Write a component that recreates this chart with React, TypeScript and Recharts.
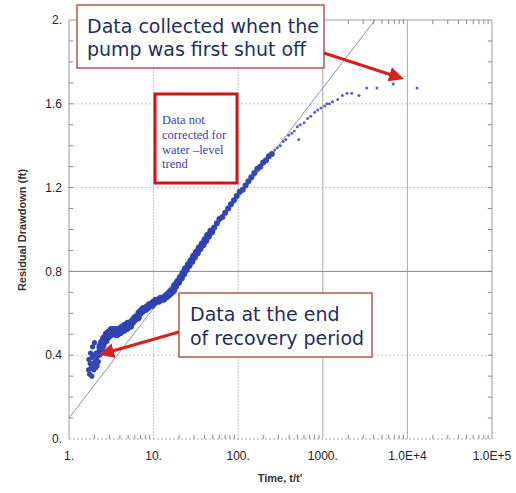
import React from 'react';
import { ScatterChart, Scatter, XAxis, YAxis, ReferenceLine } from 'recharts';

// ---- axes ----
const xTicks = [1, 10, 100, 1000, 10000, 100000];
const xTickLabels = ['1.', '10.', '100.', '1000.', '1.0E+4', '1.0E+5'];
const xMinorTicks = [
  2, 3, 4, 5, 6, 7, 8, 9,
  20, 30, 40, 50, 60, 70, 80, 90,
  200, 300, 400, 500, 600, 700, 800, 900,
  2000, 3000, 4000, 5000, 6000, 7000, 8000, 9000,
  20000, 30000, 40000, 50000, 60000, 70000, 80000, 90000,
];
const yTicks = [0, 0.4, 0.8, 1.2, 1.6, 2];
const yTickLabels = ['0.', '0.4', '0.8', '1.2', '1.6', '2.'];
const yMinorTicks = [0.1, 0.2, 0.3, 0.4, 0.5, 0.6, 0.7, 0.8, 0.9, 1.0, 1.1, 1.2, 1.3, 1.4, 1.5, 1.6, 1.7, 1.8, 1.9];

// ---- data: [t/t', residual drawdown ft] ----
const endOfRecovery: [number, number][] = [
  [1.70, 0.33], [1.72, 0.38], [1.75, 0.31], [1.78, 0.36], [1.80, 0.41], [1.83, 0.34],
  [1.86, 0.30], [1.88, 0.39], [1.90, 0.44], [1.93, 0.36], [1.96, 0.33], [1.98, 0.40],
  [2.00, 0.46], [2.03, 0.37], [2.06, 0.34], [2.09, 0.41], [2.12, 0.38], [2.15, 0.35],
  [2.18, 0.40], [2.22, 0.37], [2.26, 0.42], [2.30, 0.40],
];
const earlyBand: [number, number][] = [
  [2.35, 0.44], [2.4, 0.43], [2.45, 0.46], [2.5, 0.45], [2.6, 0.48], [2.7, 0.47],
  [2.8, 0.50], [2.9, 0.49], [3.0, 0.51], [3.1, 0.50], [3.2, 0.52], [3.35, 0.51],
  [3.5, 0.52], [3.65, 0.50], [3.8, 0.52], [4.0, 0.51], [4.2, 0.53], [4.4, 0.52],
  [4.6, 0.54], [4.8, 0.53], [5.0, 0.55], [5.3, 0.54], [5.6, 0.56], [5.9, 0.57],
  [6.2, 0.58], [6.5, 0.58], [6.8, 0.60], [7.2, 0.61], [7.6, 0.62], [8.0, 0.62],
  [8.5, 0.63], [9.0, 0.64], [9.5, 0.64], [10, 0.65], [10.7, 0.66], [11.4, 0.66],
  [12.2, 0.67], [13, 0.67], [14, 0.68], [15, 0.69], [16, 0.70], [17, 0.71],
  [18, 0.73], [19.5, 0.75], [21, 0.77], [22.5, 0.79], [24, 0.81], [26, 0.83],
  [28, 0.85], [30, 0.87], [32.5, 0.89], [35, 0.91], [38, 0.93], [41, 0.95],
  [44, 0.97], [48, 0.99],
];
const midBand: [number, number][] = [
  [52, 1.01], [56, 1.03], [60, 1.05], [65, 1.06], [70, 1.08], [76, 1.10],
  [82, 1.12], [89, 1.14], [96, 1.16], [104, 1.18], [113, 1.19], [122, 1.21],
  [132, 1.23], [143, 1.25], [155, 1.27], [168, 1.29], [182, 1.30], [197, 1.32],
  [213, 1.33], [230, 1.35], [250, 1.36],
];
const lateData: [number, number][] = [
  [270, 1.38], [290, 1.39], [315, 1.40], [340, 1.42], [365, 1.43], [395, 1.45],
  [430, 1.46], [460, 1.47], [500, 1.49], [520, 1.43], [540, 1.50], [600, 1.51],
  [660, 1.53], [720, 1.54], [800, 1.56], [870, 1.57], [950, 1.58], [1050, 1.59],
  [1120, 1.60], [1200, 1.60], [1300, 1.61], [1500, 1.62], [1700, 1.64], [1930, 1.65],
  [2200, 1.65], [2680, 1.64], [3300, 1.675], [4370, 1.675], [6800, 1.695], [13000, 1.675],
];
const fitLine: [number, number][] = [
  [1, 0.1], [4150, 2.0],
];

const toPts = (arr: [number, number][]) => arr.map(([x, y]) => ({ x, y }));

const dot = (r: number, fill: string) => (p: any) =>
  p.cx == null ? <g /> : <circle cx={p.cx} cy={p.cy} r={r} fill={fill} />;

const AX = { xAxisId: 'main', yAxisId: 'main' } as const;
const FONT = 'Liberation Sans, Arial, sans-serif';
const TICK = '#8a8a8a';
// inward tick lengths expressed in axis units (about 4 px)
const X_TICK_FACTOR = 1.12;
const Y_TICK_LEN = 0.02;

export default function App() {
  return (
    <div style={{ position: 'absolute', left: 0, top: 0, width: 516, height: 493, background: '#fff' }}>
      <ScatterChart width={516} height={493} margin={{ top: 20, right: 24, bottom: 24, left: 0 }}>
        <XAxis
          xAxisId="main"
          dataKey="x"
          type="number"
          scale="log"
          domain={[1, 100000]}
          allowDataOverflow
          ticks={xTicks}
          tickFormatter={(v: number) => xTickLabels[xTicks.indexOf(v)] ?? ''}
          tickLine={false}
          tickSize={10}
          tickMargin={2}
          height={30}
          axisLine={{ stroke: '#aaa', strokeDasharray: '2 2' }}
          tick={{ fontFamily: FONT, fontSize: 12, fill: '#222' }}
        />
        <YAxis
          yAxisId="main"
          dataKey="y"
          type="number"
          domain={[0, 2]}
          allowDataOverflow
          ticks={yTicks}
          tickFormatter={(v: number) => yTickLabels[yTicks.indexOf(v)] ?? ''}
          tickLine={false}
          tickSize={5}
          tickMargin={2}
          width={69}
          axisLine={{ stroke: '#999' }}
          tick={{ fontFamily: FONT, fontSize: 12, fill: '#222' }}
        />

        {/* grid */}
        <ReferenceLine {...AX} x={10} stroke="#c4c4cc" strokeDasharray="2 1" />
        <ReferenceLine {...AX} x={100} stroke="#c4c4cc" strokeDasharray="2 1" />
        <ReferenceLine {...AX} x={1000} stroke="#a8a8b0" />
        <ReferenceLine {...AX} x={10000} stroke="#a8a8b0" />
        <ReferenceLine {...AX} y={0.4} stroke="#c8c8cc" strokeDasharray="2 2" />
        <ReferenceLine {...AX} y={0.8} stroke="#888" />
        <ReferenceLine {...AX} y={1.2} stroke="#c8c8cc" strokeDasharray="2 2" />
        <ReferenceLine {...AX} y={1.6} stroke="#c8c8cc" strokeDasharray="2 2" />

        {/* frame: top and right */}
        <ReferenceLine {...AX} y={2} stroke="#999" />
        <ReferenceLine {...AX} x={100000} stroke="#999" />

        {/* inward minor ticks */}
        {xMinorTicks.map((t) => (
          <ReferenceLine key={'b' + t} {...AX} stroke={TICK}
            segment={[{ x: t, y: 0 }, { x: t, y: Y_TICK_LEN }]} />
        ))}
        {xMinorTicks.map((t) => (
          <ReferenceLine key={'t' + t} {...AX} stroke={TICK}
            segment={[{ x: t, y: 2 }, { x: t, y: 2 - Y_TICK_LEN }]} />
        ))}
        {yMinorTicks.map((v) => (
          <ReferenceLine key={'l' + v} {...AX} stroke={TICK}
            segment={[{ x: 1, y: v }, { x: X_TICK_FACTOR, y: v }]} />
        ))}
        {yMinorTicks.map((v) => (
          <ReferenceLine key={'r' + v} {...AX} stroke={TICK}
            segment={[{ x: 100000 / X_TICK_FACTOR, y: v }, { x: 100000, y: v }]} />
        ))}

        <Scatter
          {...AX}
          name="fit"
          data={toPts(fitLine)}
          line={{ stroke: '#8a8fc8', strokeWidth: 1 }}
          shape={() => <g />}
          isAnimationActive={false}
        />
        <Scatter {...AX} name="recovery" data={toPts(endOfRecovery)} shape={dot(2.6, '#3346b3')} isAnimationActive={false} />
        <Scatter {...AX} name="early" data={toPts(earlyBand)} shape={dot(4, '#2f43b0')} isAnimationActive={false} />
        <Scatter {...AX} name="mid" data={toPts(midBand)} shape={dot(3, '#3447b3')} isAnimationActive={false} />
        <Scatter {...AX} name="late" data={toPts(lateData)} shape={dot(1.5, '#5862bb')} isAnimationActive={false} />
      </ScatterChart>

      <svg width={516} height={493} style={{ position: 'absolute', left: 0, top: 0, pointerEvents: 'none' }}>
        <defs>
          <marker id="ah" markerWidth="5" markerHeight="5" refX="4" refY="2.5" orient="auto" markerUnits="strokeWidth">
            <path d="M0,0 L5,2.5 L0,5 z" fill="#d42222" />
          </marker>
        </defs>

        {/* axis titles */}
        <text x={22} y={230} transform="rotate(-90 22 230)" textAnchor="middle" dominantBaseline="central"
          fontFamily={FONT} fontSize={11} fontWeight="bold" fill="#333">Residual Drawdown (ft)</text>
        <text x={280} y={482} textAnchor="middle" fontFamily={FONT} fontSize={11} fontWeight="bold" fill="#333">Time, t/t'</text>

        {/* box 1 */}
        <rect x={77} y={5} width={247} height={63} fill="#fff" stroke="#c0504d" strokeWidth={1.5} />
        <text x={87} y={33} fontFamily="DejaVu Sans, Verdana, sans-serif" fontSize={19} fill="#1f2f5c">Data collected when the</text>
        <text x={87} y={56} fontFamily="DejaVu Sans, Verdana, sans-serif" fontSize={19} fill="#1f2f5c">pump was first shut off</text>
        <line x1={324} y1={53} x2={401} y2={78} stroke="#d42222" strokeWidth={3} markerEnd="url(#ah)" />

        {/* box 2 */}
        <rect x={155} y={94} width={82} height={89} fill="#fff" stroke="#cc1515" strokeWidth={3} />
        <text fontFamily="Liberation Serif, Times New Roman, serif" fontSize={12.5} fill="#3a3fae">
          <tspan x={162} y={124}>Data not</tspan>
          <tspan x={162} y={139}>corrected for</tspan>
          <tspan x={162} y={154}>water –level</tspan>
          <tspan x={162} y={168}>trend</tspan>
        </text>

        {/* box 3 */}
        <rect x={179} y={293} width={193} height={64} fill="#fff" stroke="#c0504d" strokeWidth={1.5} />
        <text x={190} y={321} fontFamily="DejaVu Sans, Verdana, sans-serif" fontSize={19} fill="#1f2f5c">Data at the end</text>
        <text x={190} y={345} fontFamily="DejaVu Sans, Verdana, sans-serif" fontSize={19} fill="#1f2f5c">of recovery period</text>
        <line x1={179} y1={332} x2={102} y2={354} stroke="#d42222" strokeWidth={3} markerEnd="url(#ah)" />
      </svg>
    </div>
  );
}
